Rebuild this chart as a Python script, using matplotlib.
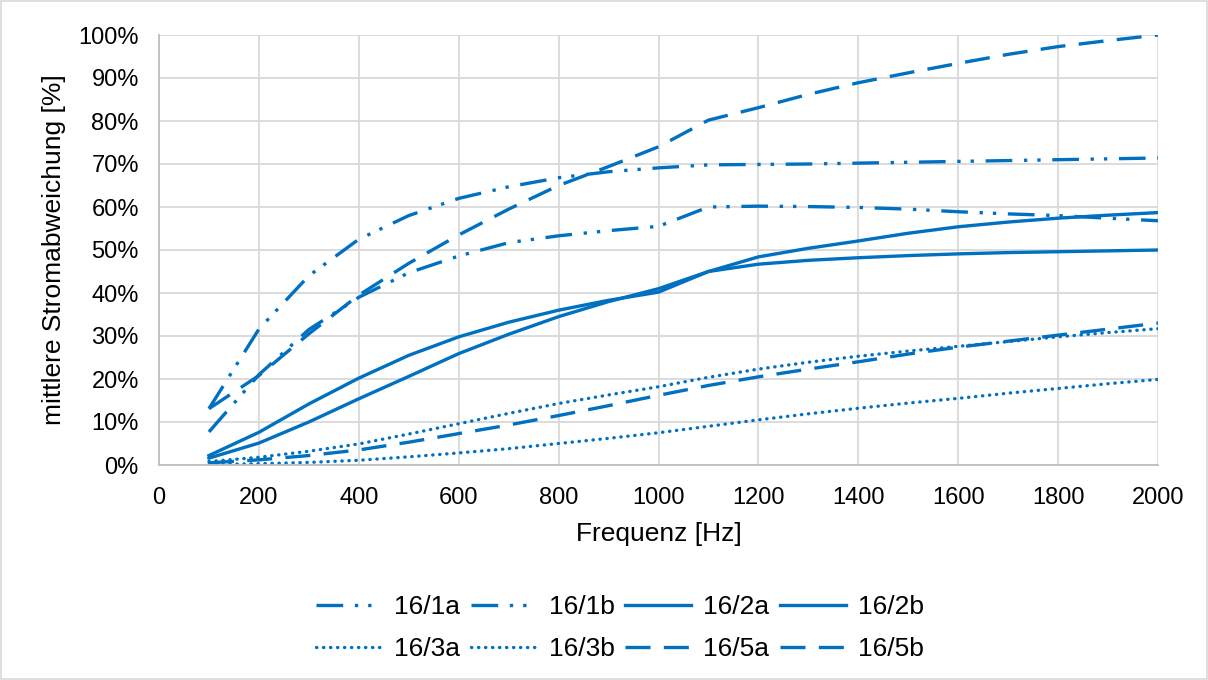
import numpy as np
import matplotlib
matplotlib.use("Agg")
import matplotlib.pyplot as plt
from matplotlib.patches import Rectangle

plt.rcParams['font.family'] = ['Liberation Sans', 'DejaVu Sans']

# Frequenzen [Hz]
freq = list(range(100, 2001, 100))

# mittlere Stromabweichung [%]
s16_1a = [13.1, 31.6, 44.0, 52.5, 58.0, 62.0, 64.7, 66.8, 68.2, 69.1, 69.8, 69.9, 70.0,
          70.2, 70.4, 70.6, 70.8, 71.0, 71.2, 71.4]
s16_1b = [7.7, 21.0, 31.5, 39.0, 44.7, 48.6, 51.7, 53.3, 54.5, 55.5, 60.0, 60.2, 60.1,
          59.9, 59.5, 58.9, 58.4, 58.0, 57.4, 56.8]
s16_2a = [2.2, 7.6, 14.2, 20.2, 25.5, 29.8, 33.2, 36.0, 38.3, 40.2, 45.0, 46.7, 47.6,
          48.2, 48.7, 49.1, 49.4, 49.6, 49.8, 50.0]
s16_2b = [1.6, 5.1, 10.0, 15.4, 20.6, 25.9, 30.4, 34.5, 38.0, 41.0, 45.0, 48.4, 50.4,
          52.1, 53.9, 55.4, 56.5, 57.4, 58.1, 58.7]
s16_3a = [0.8, 1.8, 3.2, 4.9, 7.2, 9.6, 12.0, 14.3, 16.3, 18.2, 20.4, 22.3, 23.9,
          25.3, 26.5, 27.6, 28.7, 29.8, 30.8, 31.7]
s16_3b = [0.1, 0.3, 0.6, 1.1, 1.9, 2.8, 3.8, 5.0, 6.2, 7.5, 9.0, 10.5, 11.9,
          13.2, 14.4, 15.5, 16.7, 17.8, 18.9, 19.9]
s16_5a = [0.5, 1.2, 2.2, 3.5, 5.3, 7.3, 9.3, 11.5, 13.8, 16.2, 18.5, 20.5, 22.3,
          24.0, 25.8, 27.4, 28.8, 30.2, 31.6, 33.0]
s16_5b = [13.1, 20.8, 30.5, 39.5, 46.9, 53.5, 59.5, 65.0, 69.4, 74.0, 80.2, 83.1, 86.2,
          88.9, 91.2, 93.4, 95.5, 97.3, 98.7, 100.0]

labels = ["16/1a", "16/1b", "16/2a", "16/2b", "16/3a", "16/3b", "16/5a", "16/5b"]
series = [s16_1a, s16_1b, s16_2a, s16_2b, s16_3a, s16_3b, s16_5a, s16_5b]

blue = "#0070C0"
dashdotdot = (0, (8, 3.5, 1, 3, 1, 3.5))
styles = {
    "16/1a": dict(linestyle=dashdotdot),
    "16/1b": dict(linestyle=dashdotdot),
    "16/2a": dict(linestyle="-"),
    "16/2b": dict(linestyle="-"),
    "16/3a": dict(linestyle=(0, (0.1, 2)), dash_capstyle="round"),
    "16/3b": dict(linestyle=(0, (0.1, 2)), dash_capstyle="round"),
    "16/5a": dict(linestyle=(0, (7.5, 4))),
    "16/5b": dict(linestyle=(0, (7.5, 4))),
}

fig = plt.figure(figsize=(12.08, 6.8), dpi=100)
ax = fig.add_axes([159 / 1208, 1 - 465 / 680, (1158 - 159) / 1208, (465 - 35) / 680])

lines = []
for lab, vals in zip(labels, series):
    ln, = ax.plot(freq, vals, color=blue, lw=2.4, label=lab, **styles[lab])
    lines.append(ln)

ax.set_xlim(0, 2000)
ax.set_ylim(0, 100)
ax.set_xticks(range(0, 2001, 200))
ax.set_yticks(range(0, 101, 10))
ax.set_yticklabels([f"{v}%" for v in range(0, 101, 10)])
ax.grid(True, color="#D9D9D9", lw=1.3)
ax.set_axisbelow(True)
for s in ["top", "right"]:
    ax.spines[s].set_visible(False)
for s in ["left", "bottom"]:
    ax.spines[s].set_color("#BFBFBF")
    ax.spines[s].set_linewidth(1.3)
ax.tick_params(axis="both", length=0, labelsize=17, colors="#000000")
ax.tick_params(axis="y", pad=14.5)
ax.tick_params(axis="x", pad=16)

ax.set_xlabel("Frequenz [Hz]", fontsize=19, labelpad=9)
ax.set_ylabel("mittlere Stromabweichung [%]", fontsize=19, labelpad=9)

# legend filled row by row, as in the original (matplotlib fills columns)
order = [0, 4, 1, 5, 2, 6, 3, 7]
fig.legend([lines[i] for i in order], [labels[i] for i in order],
           loc="center", bbox_to_anchor=(620 / 1208, 1 - 628 / 680), ncol=4,
           frameon=False, fontsize=19, handlelength=2.5, handletextpad=0.45,
           columnspacing=0.4, labelspacing=0.7)

fig.patches.append(Rectangle((0.001, 0.001), 0.998, 0.998, transform=fig.transFigure,
                             fill=False, edgecolor="#D9D9D9", lw=1.2))

fig.savefig("out.png", dpi=100)
